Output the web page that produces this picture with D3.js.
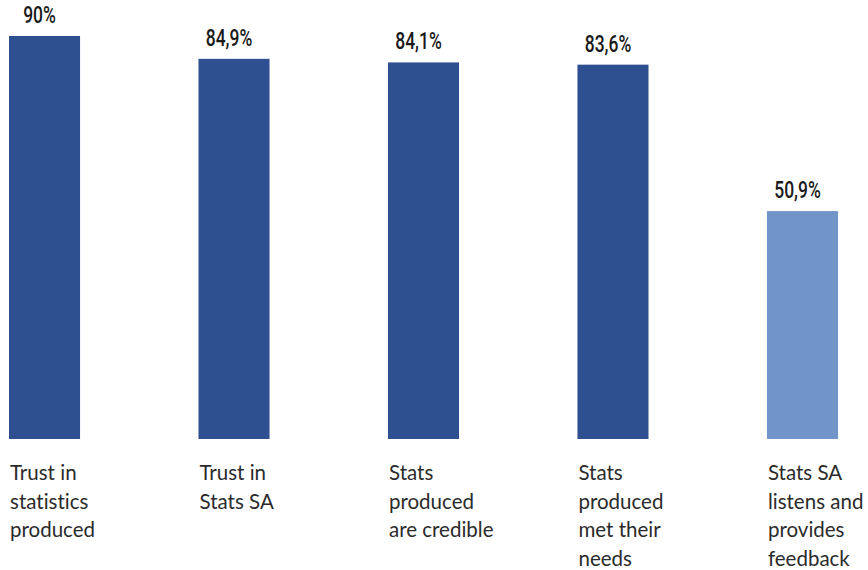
<!DOCTYPE html>
<html>
<head>
<meta charset="utf-8">
<script src="https://cdn.jsdelivr.net/npm/d3@7"></script>
<style>
  body { margin: 0; background: #fff; }
  text { font-variant-ligatures: none; }
</style>
</head>
<body>
<script>
// chart data
var categories = ['Trust in statistics produced', 'Trust in Stats SA', 'Stats produced are credible', 'Stats produced met their needs', 'Stats SA listens and provides feedback'];
var categoryLines = [
  ['Trust in', 'statistics', 'produced'],
  ['Trust in', 'Stats SA'],
  ['Stats', 'produced', 'are credible'],
  ['Stats', 'produced', 'met their', 'needs'],
  ['Stats SA', 'listens and', 'provides', 'feedback']
];
var values = [90, 84.9, 84.1, 83.6, 50.9];
var valueLabels = ['90%', '84,9%', '84,1%', '83,6%', '50,9%'];
var barColors = ['#2f5090', '#2f5090', '#2f5090', '#2f5090', '#7194c9'];

var chartVars = {
  width: 868,
  height: 570,
  left: 9,
  right: 838,
  base: 439,
  top: 36
};

var svg = d3.select('body').append('svg')
  .attr('width', chartVars.width)
  .attr('height', chartVars.height);

var x = d3.scaleBand()
  .domain(categories)
  .range([chartVars.left, chartVars.right])
  .paddingInner(0.625)
  .paddingOuter(0)
  .align(0);

var y = d3.scaleLinear()
  .domain([0, 90])
  .range([chartVars.base, chartVars.top]);

svg.selectAll('rect.bar')
  .data(values)
  .enter().append('rect')
  .attr('class', 'bar')
  .attr('x', function(d, i) { return x(categories[i]); })
  .attr('y', function(d) { return y(d); })
  .attr('width', x.bandwidth())
  .attr('height', function(d) { return y(0) - y(d); })
  .attr('fill', function(d, i) { return barColors[i]; });

// value labels above bars (narrow face squeezed horizontally)
svg.selectAll('text.val')
  .data(values)
  .enter().append('text')
  .attr('class', 'val')
  .attr('transform', function(d, i) {
    var cx = x(categories[i]) + x.bandwidth() / 2 - 5;
    return 'translate(' + cx + ',' + (y(d) - 13) + ') scale(0.76,1)';
  })
  .attr('text-anchor', 'middle')
  .attr('font-family', 'Roboto, sans-serif')
  .attr('font-weight', 500)
  .attr('font-size', 23)
  .attr('fill', '#1a1a1a')
  .text(function(d, i) { return valueLabels[i]; });

// category labels, left aligned under bars
var cat = svg.selectAll('text.cat')
  .data(categoryLines)
  .enter().append('text')
  .attr('class', 'cat')
  .attr('x', function(d, i) { return x(categories[i]) + 1; })
  .attr('y', 480)
  .attr('font-family', 'Lato, "Noto Sans", sans-serif')
  .attr('font-size', 20.5)
  .attr('fill', '#2b2b2b');

cat.selectAll('tspan')
  .data(function(d) { return d; })
  .enter().append('tspan')
  .attr('x', function() { return d3.select(this.parentNode).attr('x'); })
  .attr('dy', function(d, i) { return i === 0 ? 0 : 28.5; })
  .text(function(d) { return d; });
</script>
</body>
</html>
